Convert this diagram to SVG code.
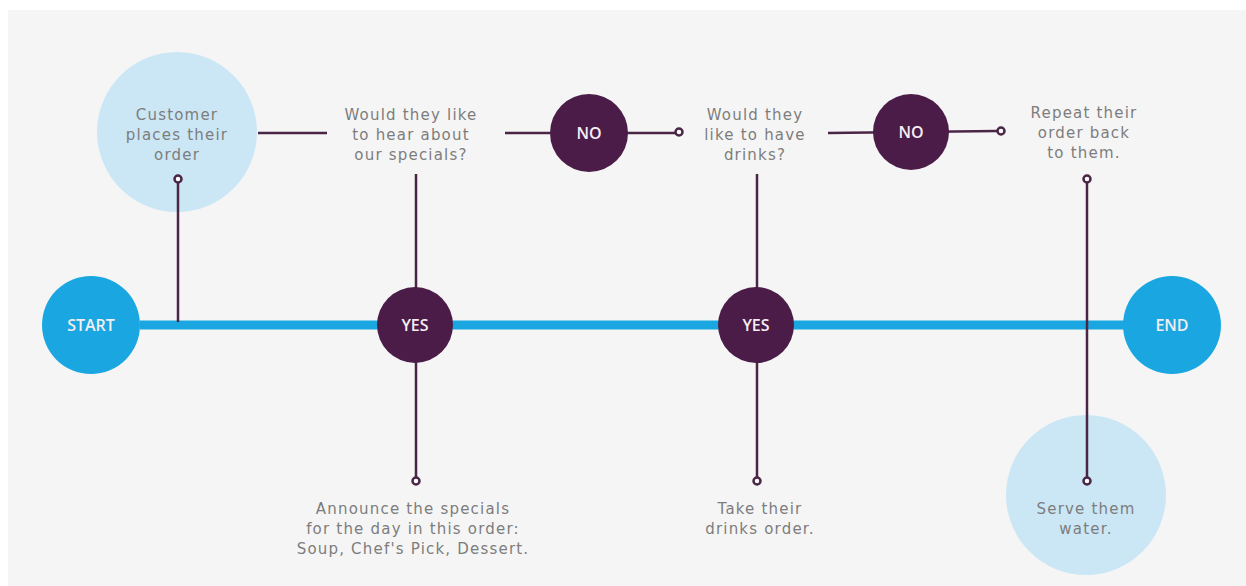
<svg xmlns="http://www.w3.org/2000/svg" width="1246" height="586" viewBox="0 0 1246 586">
<style>
.t{font-family:"DejaVu Sans","Open Sans",sans-serif;font-size:15px;letter-spacing:1.2px;fill:#7d7d7d;text-anchor:middle}
.w{font-family:"Open Sans","Liberation Sans",sans-serif;font-size:16px;font-weight:600;fill:#f4eef4;text-anchor:middle}
.c{stroke:#4a2545;stroke-width:2.5;fill:none}
.dot{stroke:#4a2545;stroke-width:2.5;fill:#ffffff}
.dec{fill:#4b1c47}
.bl{fill:#1aa7e1}
.lb{fill:#cbe7f5}
</style>
<rect x="0" y="0" width="1246" height="586" fill="#ffffff"/>
<rect x="8" y="10" width="1238" height="576" fill="#f5f5f5"/>
<g id="customer">
<circle class="lb" cx="177" cy="132" r="80"/>
<text class="t" x="177" y="120">Customer</text>
<text class="t" x="177" y="140">places their</text>
<text class="t" x="177" y="160">order</text>
</g>
<g id="water">
<circle class="lb" cx="1086" cy="495" r="80"/>
<text class="t" x="1086" y="514">Serve them</text>
<text class="t" x="1086" y="534">water.</text>
</g>
<g id="connectors">
<line x1="140" y1="325" x2="1125" y2="325" stroke="#1aa7e1" stroke-width="9"/>
<line class="c" x1="258" y1="133" x2="327" y2="133"/>
<line class="c" x1="178" y1="182" x2="178" y2="322"/>
<line class="c" x1="505" y1="133" x2="676" y2="133"/>
<line class="c" x1="416" y1="174" x2="416" y2="477"/>
<line class="c" x1="828" y1="133" x2="997" y2="131"/>
<line class="c" x1="757" y1="174" x2="757" y2="477"/>
<line class="c" x1="1087" y1="183" x2="1087" y2="477"/>
<circle class="dot" cx="178" cy="179" r="3.5"/>
<circle class="dot" cx="679" cy="132" r="3.5"/>
<circle class="dot" cx="1001" cy="131" r="3.5"/>
<circle class="dot" cx="1087" cy="179" r="3.5"/>
<circle class="dot" cx="416" cy="481" r="3.5"/>
<circle class="dot" cx="757" cy="481" r="3.5"/>
<circle class="dot" cx="1087" cy="481" r="3.5"/>
</g>
<g id="start">
<circle class="bl" cx="91" cy="325" r="49"/>
<text class="w" x="91" y="331">START</text>
</g>
<g id="q1">
<text class="t" x="411" y="120">Would they like</text>
<text class="t" x="411" y="140">to hear about</text>
<text class="t" x="411" y="160">our specials?</text>
</g>
<g id="no1">
<circle class="dec" cx="589" cy="133" r="39"/>
<text class="w" x="589" y="139">NO</text>
</g>
<g id="yes1">
<circle class="dec" cx="415" cy="325" r="38"/>
<text class="w" x="415" y="331">YES</text>
</g>
<g id="announce">
<text class="t" x="413" y="514">Announce the specials</text>
<text class="t" x="413" y="534">for the day in this order:</text>
<text class="t" x="413" y="554">Soup, Chef's Pick, Dessert.</text>
</g>
<g id="q2">
<text class="t" x="755" y="120">Would they</text>
<text class="t" x="755" y="140">like to have</text>
<text class="t" x="755" y="160">drinks?</text>
</g>
<g id="no2">
<circle class="dec" cx="911" cy="132" r="38"/>
<text class="w" x="911" y="138">NO</text>
</g>
<g id="yes2">
<circle class="dec" cx="756" cy="325" r="38"/>
<text class="w" x="756" y="331">YES</text>
</g>
<g id="drinks">
<text class="t" x="760" y="514">Take their</text>
<text class="t" x="760" y="534">drinks order.</text>
</g>
<g id="repeat">
<text class="t" x="1084" y="118">Repeat their</text>
<text class="t" x="1084" y="138">order back</text>
<text class="t" x="1084" y="158">to them.</text>
</g>
<g id="end">
<circle class="bl" cx="1172" cy="325" r="49"/>
<text class="w" x="1172" y="331">END</text>
</g>
</svg>
